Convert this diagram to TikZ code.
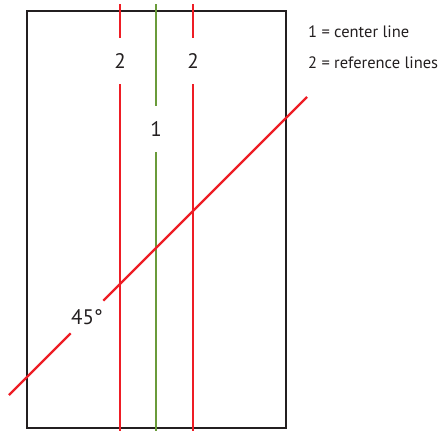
\documentclass[tikz,border=0pt]{standalone}
\usepackage{fontspec}
\setmainfont{PT Sans}
\definecolor{cred}{HTML}{EE1D25}
\definecolor{cgreen}{HTML}{6A9B3A}
\definecolor{cblack}{HTML}{231F20}
\tikzset{
  every picture/.style={line width=2.2pt},
  frame/.style={draw=cblack, line width=2.4pt},
  vline/.style={draw=#1, line width=2.3pt},
  vline/.default=cred,
  gap/.style={circle, minimum size=44pt, inner sep=0pt, font=\fontsize{21}{21}\selectfont, text=cblack},
  legend/.style={anchor=west, inner sep=0pt, font=\fontsize{16.5}{18}\selectfont, text=cblack},
}

\begin{document}
\begin{tikzpicture}[x=1pt, y=-1pt]
  \useasboundingbox (0,0) rectangle (439,431);
  \draw[frame] (27,11) rectangle (286,428);
  % vertical lines, each broken by its number
  \foreach \name/\x/\y/\txt/\c in {refa/120/61/2/cred, cen/156/129/1/cgreen, refb/193/61/2/cred} {
    \coordinate (\name-top) at (\x,4);
    \coordinate (\name-bot) at (\x,431);
    \node[gap] (\name) at (\x,\y) {\txt};
    \draw[vline=\c] (\name-top) -- (\name);
    \draw[vline=\c] (\name) -- (\name-bot);
  }
  % the 45 degree line
  \coordinate (diag-low) at (9,395);
  \coordinate (diag-high) at (307,97);
  \node[gap] (ang) at (87,317) {45°};
  \draw[vline] (diag-low) -- (ang);
  \draw[vline] (ang) -- (diag-high);
  % key
  \node[legend] (key1) at (307,32) {1 = center line};
  \node[legend] (key2) at (307,63) {2 = reference lines};
\end{tikzpicture}
\end{document}
